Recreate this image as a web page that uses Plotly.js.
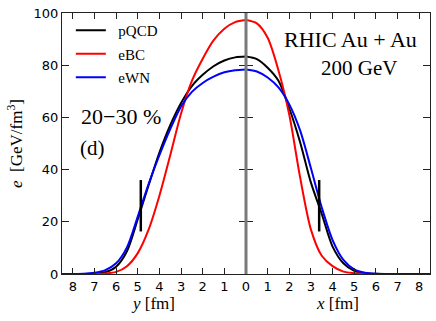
<!DOCTYPE html>
<html>
<head>
<meta charset="utf-8">
<script src="https://cdn.plot.ly/plotly-3.0.1.min.js"></script>
<style>
  html, body { margin: 0; padding: 0; background: #fff; }
  #chart { width: 436px; height: 321px; }
</style>
</head>
<body>
<div id="chart"></div>
<script>
// radial distance from centre [fm], same grid on both halves
var rGrid = [0, 0.5, 1, 1.5, 2, 2.5, 3, 3.5, 4, 4.5, 5, 5.5, 6, 6.5, 7, 7.5, 8, 8.5];

// left half: profile along y
var pqcdY = [83.3, 83.0, 81.8, 79.6, 76.3, 72.0, 65.5, 57.0, 46.5, 34.0, 21.0, 8.7, 2.8, 0.7, 0.15, 0.03, 0, 0];
var ebcY  = [97.3, 96.5, 94.0, 89.5, 82.5, 74.0, 61.5, 45.5, 30.0, 17.0, 8.0, 3.0, 0.8, 0.2, 0.03, 0, 0, 0];
var ewnY  = [78.4, 78.1, 77.3, 75.6, 73.2, 69.8, 64.2, 55.5, 45.5, 34.5, 22.0, 10.2, 4.1, 1.5, 0.5, 0.12, 0.03, 0];

// right half: profile along x
var pqcdX = [83.3, 82.3, 79.0, 74.0, 63.5, 50.5, 35.0, 23.0, 10.5, 4.1, 1.2, 0.3, 0.05, 0, 0, 0, 0, 0];
var ebcX  = [97.3, 96.0, 90.5, 78.0, 61.0, 37.0, 17.0, 7.0, 3.0, 0.9, 0.3, 0.05, 0, 0, 0, 0, 0, 0];
var ewnX  = [78.4, 77.6, 75.3, 71.5, 65.0, 55.0, 40.5, 25.5, 13.0, 5.4, 1.8, 0.5, 0.1, 0, 0, 0, 0, 0];

// rms markers: position and vertical extent
var rmsY = 4.86, rmsX = 3.38;
var rmsSpan = [16.3, 36];

var names  = ["pQCD", "eBC", "eWN"];
var colors = ["#000000", "#ff0000", "#0000ff"];

var SERIF = "Liberation Serif, Times New Roman, serif";
var SANS = "DejaVu Sans, sans-serif";

var traces = [];
[pqcdY, ebcY, ewnY].forEach(function (v, i) {
  traces.push({ x: rGrid, y: v, xaxis: "x", yaxis: "y", mode: "lines",
    name: "\u00a0\u00a0" + names[i], legendgroup: names[i],
    line: { color: colors[i], width: 2, shape: "spline", smoothing: 0.8 } });
});
[pqcdX, ebcX, ewnX].forEach(function (v, i) {
  traces.push({ x: rGrid, y: v, xaxis: "x2", yaxis: "y2", mode: "lines", name: names[i], showlegend: false,
    line: { color: colors[i], width: 2, shape: "spline", smoothing: 0.8 } });
});
traces.push({ x: [rmsY, rmsY], y: rmsSpan, xaxis: "x", yaxis: "y", mode: "lines", showlegend: false,
  line: { color: "#000", width: 2.5 } });
traces.push({ x: [rmsX, rmsX], y: rmsSpan, xaxis: "x2", yaxis: "y2", mode: "lines", showlegend: false,
  line: { color: "#000", width: 2.5 } });

var tickVals = [0, 1, 2, 3, 4, 5, 6, 7, 8];
var axX = {
  ticks: "inside", ticklen: 6, tickcolor: "#222", showline: true, linecolor: "#222", linewidth: 1,
  mirror: "ticks", showgrid: false, zeroline: false, fixedrange: true,
  tickfont: { family: SANS, size: 13, color: "#000" }
};
var axY = {
  range: [0, 100], tickvals: [0, 20, 40, 60, 80, 100], ticks: "inside", ticklen: 7, tickcolor: "#222",
  showline: true, linecolor: "#222", linewidth: 1, mirror: "ticks", showgrid: false, zeroline: false,
  tickfont: { family: SANS, size: 13, color: "#000" }
};

function note(text, x, y, size) {
  return { text: text, xref: "paper", yref: "paper", x: x, y: y, xanchor: "center", yanchor: "middle",
    showarrow: false, font: { family: SERIF, size: size, color: "#000" } };
}

var layout = {
  width: 436, height: 321,
  margin: { l: 62, r: 6, t: 13, b: 47 },
  paper_bgcolor: "#fff", plot_bgcolor: "#fff",
  showlegend: true,
  xaxis: Object.assign({}, axX, { domain: [0, 0.5], range: [8.5, 0], tickvals: tickVals.slice(1),
    title: { text: "<i>y</i> [fm]", font: { family: SERIF, size: 17, color: "#000" }, standoff: 4 } }),
  xaxis2: Object.assign({}, axX, { domain: [0.5, 1], range: [0, 8.5], tickvals: tickVals, anchor: "y2",
    title: { text: "<i>x</i> [fm]", font: { family: SERIF, size: 17, color: "#000" }, standoff: 4 } }),
  yaxis: Object.assign({}, axY, {
    title: { text: "<i>e</i>  [GeV/fm<sup>3</sup>]", font: { family: SERIF, size: 17, color: "#000" }, standoff: 6 } }),
  yaxis2: Object.assign({}, axY, { anchor: "x2", showticklabels: false }),
  legend: {
    x: 0.024, y: 0.996, xanchor: "left", yanchor: "top", tracegroupgap: 1,
    bgcolor: "rgba(0,0,0,0)", borderwidth: 0,
    font: { family: SERIF, size: 15, color: "#000" }
  },
  shapes: [{ type: "line", xref: "paper", yref: "paper", x0: 0.5, x1: 0.5, y0: 0, y1: 1,
    line: { color: "#7a7a7a", width: 3 }, layer: "above" }],
  annotations: [
    note("20\u221230 %", 0.16, 0.602, 22),
    note("(d)", 0.084, 0.483, 21),
    note("RHIC Au + Au", 0.785, 0.897, 22),
    note("200 GeV", 0.807, 0.789, 21)
  ]
};

Plotly.newPlot("chart", traces, layout, { displayModeBar: false, staticPlot: true });
</script>
</body>
</html>
